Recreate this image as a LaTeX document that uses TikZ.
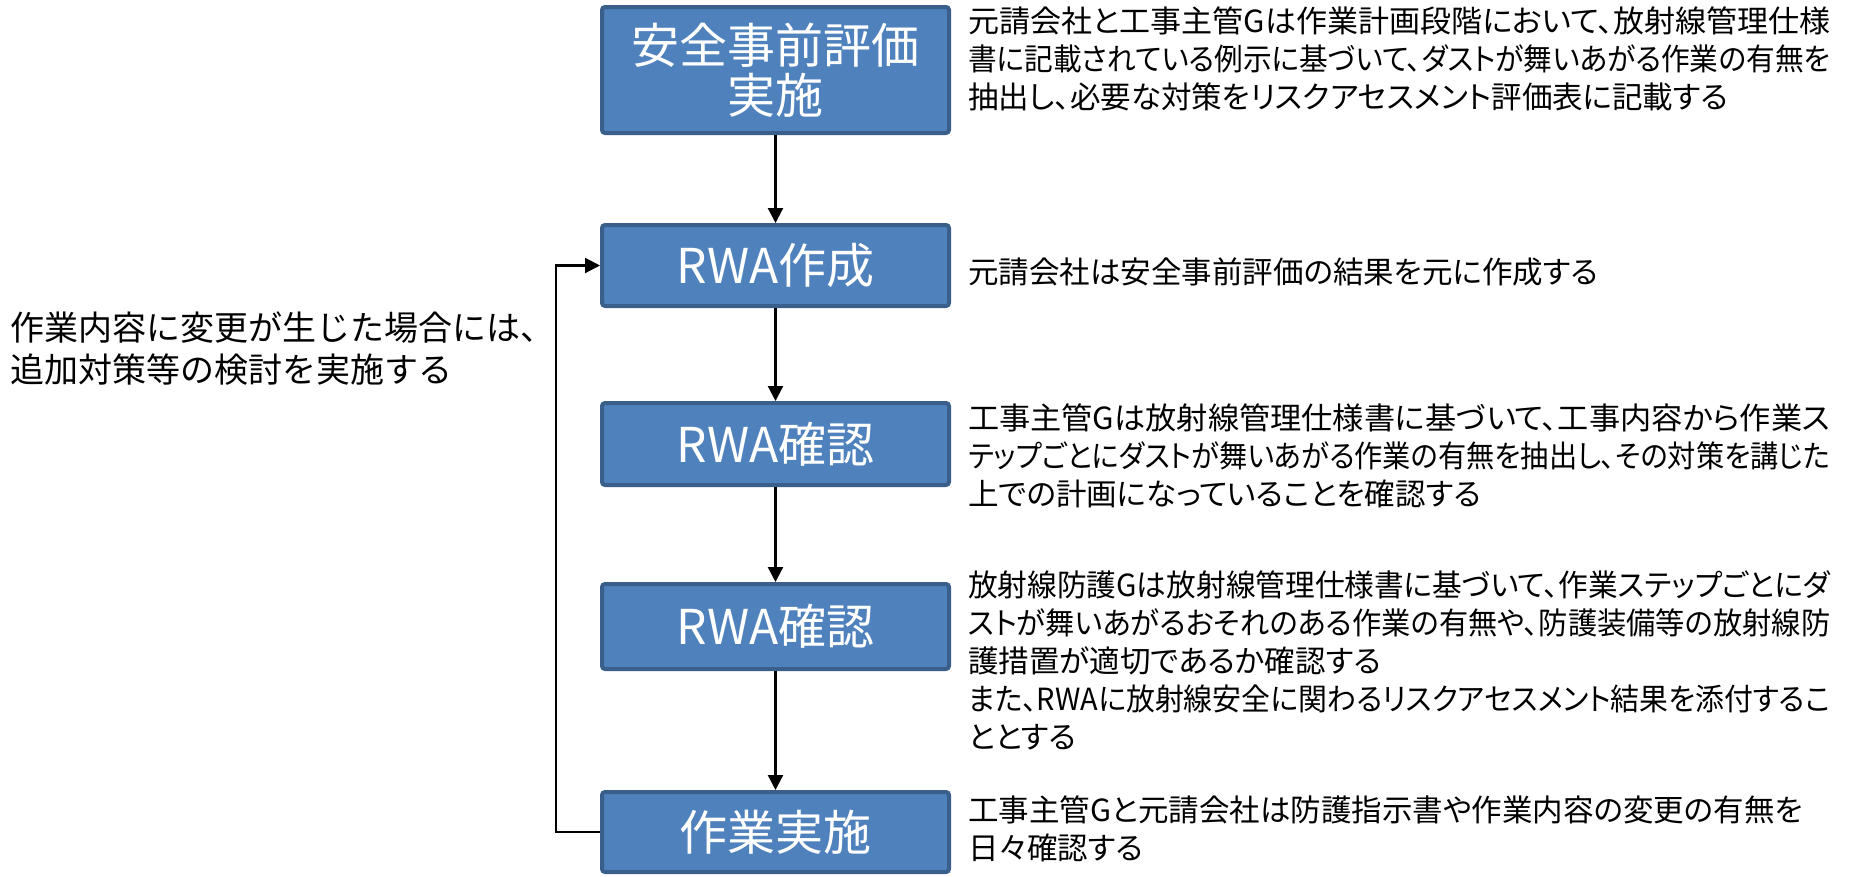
\documentclass[tikz,border=0pt]{standalone}
\usepackage{fontspec}
\usepackage{graphicx}
\setmainfont{Noto Sans CJK JP}
\newfontfamily\propfont[RawFeature=+palt]{Noto Sans CJK JP}
\newcommand\fullline[1]{\resizebox{862pt}{\height}{#1}}
\usetikzlibrary{arrows.meta}
\definecolor{boxfill}{HTML}{4F81BD}
\definecolor{boxline}{HTML}{3A5F8B}
\tikzset{
  stepbox/.style={rectangle, rounded corners=3pt, fill=boxfill, draw=boxline,
    line width=4pt, minimum width=347pt, text=white, align=center, inner sep=0pt,
    font=\fontsize{48}{50}\selectfont},
  desc/.style={anchor=west, align=left, inner sep=0pt, text=black,
    font=\propfont\fontsize{30.5}{38}\selectfont},
  note/.style={anchor=west, align=left, inner sep=0pt, text=black,
    font=\fontsize{34}{42}\selectfont},
  conn/.style={line width=2.2pt, draw=black, -{Triangle[width=15pt,length=15pt]}}
}
\begin{document}
\begin{tikzpicture}[x=1pt,y=-1pt]
\useasboundingbox (0,0) rectangle (1850,876);
\fill[white] (0,0) rectangle (1850,876);
\node[stepbox, minimum height=126pt] (b1) at (775.5,70) {安全事前評価\\実施};
\node[stepbox, minimum height=81pt] (b2) at (775.5,265.5) {RWA作成};
\node[stepbox, minimum height=82pt] (b3) at (775.5,444) {RWA確認};
\node[stepbox, minimum height=85pt] (b4) at (775.5,626.5) {RWA確認};
\node[stepbox, minimum height=80pt] (b5) at (775.5,832) {作業実施};

\node[desc] (t1) at (968,59) {\fullline{元請会社と工事主管Gは作業計画段階において、放射線管理仕様}\\\fullline{書に記載されている例示に基づいて、ダストが舞いあがる作業の有無を}\\抽出し、必要な対策をリスクアセスメント評価表に記載する};
\node[desc] (t2) at (968,272) {元請会社は安全事前評価の結果を元に作成する};
\node[desc] (t3) at (968,456) {\fullline{工事主管Gは放射線管理仕様書に基づいて、工事内容から作業ス}\\\fullline{テップごとにダストが舞いあがる作業の有無を抽出し、その対策を講じた}\\上での計画になっていることを確認する};
\node[desc] (t4) at (968,660.5) {\fullline{放射線防護Gは放射線管理仕様書に基づいて、作業ステップごとにダ}\\\fullline{ストが舞いあがるおそれのある作業の有無や、防護装備等の放射線防}\\護措置が適切であるか確認する\\\fullline{また、RWAに放射線安全に関わるリスクアセスメント結果を添付するこ}\\ととする};
\node[desc] (t5) at (968,829) {工事主管Gと元請会社は防護指示書や作業内容の変更の有無を\\日々確認する};
\node[note] (n1) at (10,349) {作業内容に変更が生じた場合には、\\追加対策等の検討を実施する};

\draw[conn] (b1.south) -- (b2.north);
\draw[conn] (b2.south) -- (b3.north);
\draw[conn] (b3.south) -- (b4.north);
\draw[conn] (b4.south) -- (b5.north);
\coordinate (fb1) at (556,832);
\coordinate (fb2) at (556,265.5);
\draw[conn] (b5.west) -- (fb1) -- (fb2) -- (b2.west);
\end{tikzpicture}
\end{document}
